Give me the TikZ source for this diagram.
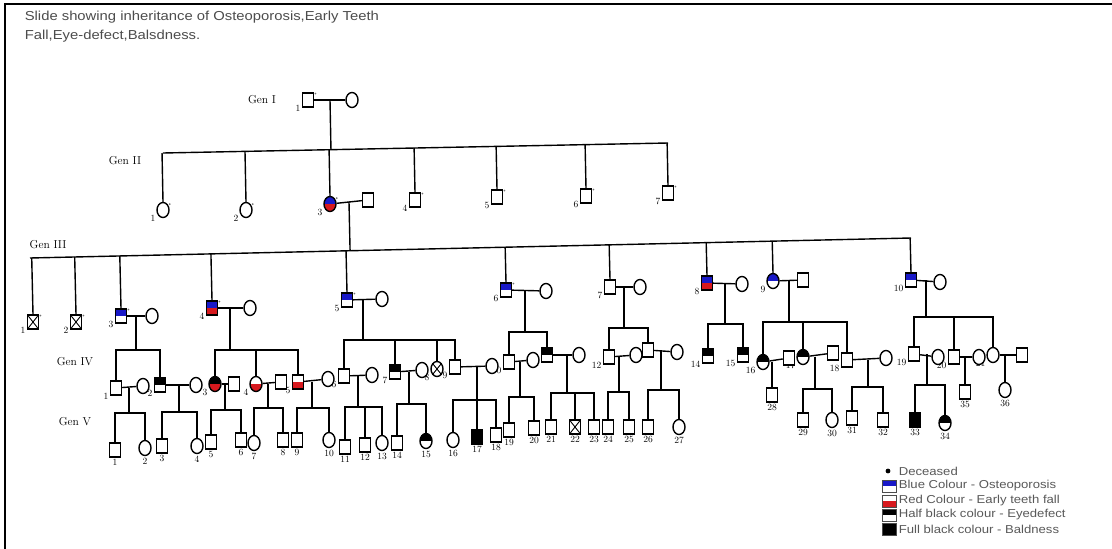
\documentclass[tikz,border=0pt]{standalone}
\usepackage{fontspec}
\newfontfamily\arial{Liberation Sans}
\usetikzlibrary{calc,shapes.geometric}
\definecolor{osteoblue}{RGB}{25,25,200}
\definecolor{teethred}{RGB}{215,25,30}

\begin{document}
\begin{tikzpicture}[x=1pt,y=-1pt,line width=1.4pt,
male/.style={draw,rectangle,minimum width=11pt,minimum height=14pt,inner sep=0pt,fill=white},
female/.style={draw,ellipse,minimum width=12pt,minimum height=15pt,inner sep=0pt,fill=white},
osteo/.style={path picture={\fill[osteoblue](path picture bounding box.north west)rectangle(path picture bounding box.east);}},
osteoteeth/.style={path picture={\fill[osteoblue](path picture bounding box.north west)rectangle(path picture bounding box.east);\fill[teethred](path picture bounding box.west)rectangle(path picture bounding box.south east);}},
teeth/.style={path picture={\fill[teethred](path picture bounding box.west)rectangle(path picture bounding box.south east);}},
eyeteeth/.style={path picture={\fill[black](path picture bounding box.north west)rectangle(path picture bounding box.east);\fill[teethred](path picture bounding box.west)rectangle(path picture bounding box.south east);}},
eye/.style={path picture={\fill[black](path picture bounding box.north west)rectangle(path picture bounding box.east);}},
bald/.style={fill=black},
crossed/.style={path picture={\draw[line width=0.9pt](path picture bounding box.north west)--(path picture bounding box.south east)(path picture bounding box.north east)--(path picture bounding box.south west);}},
dead/.style={label={[circle,fill=black!55,inner sep=0.7pt,label distance=0pt]40:{}}},
nlab/.style={font=\fontsize{9.5}{9.5}\selectfont,inner sep=0.8pt},
genlab/.style={font=\fontsize{11.5}{11.5}\selectfont,inner sep=0pt},
ttl/.style={font=\arial\fontsize{13}{13}\selectfont,text=black!70,xscale=1.14,inner sep=0pt,anchor=west},
legtxt/.style={font=\arial\fontsize{11.5}{12}\selectfont,text=black!65,xscale=1.14,inner sep=0pt,anchor=west},
legbox/.style={draw=black!70,rectangle,minimum width=14pt,minimum height=12pt,inner sep=0pt,fill=white,line width=0.6pt}]
\fill[white](0,0)rectangle(1112,549);
\useasboundingbox(0,0)rectangle(1112,549);
\draw[line width=2.5pt](5,549)--(5,4)--(1112,4); %枠

%題
\node[ttl](t1)at(24,17){Slide showing inheritance of Osteoporosis,Early Teeth};
\node[ttl](t2)at(24,36){Fall,Eye-defect,Balsdness.};

%第1世代
\node[genlab](gI)at(262,100){Gen I};
\node[male,dead,label={[nlab]-150:1}](I1)at(308,100){};
\node[female](I2)at(352,100){};
\draw(I1)--(I2);

%第2世代
\node[genlab](gII)at(125,161){Gen II};
\coordinate(g2a)at(163,153);
\coordinate(g2b)at(668,143);
\draw(g2a)--(g2b);
\coordinate(dI)at($(I1)!.5!(I2)$);
\draw(dI)--($(g2a)!(dI)!(g2b)$);
\node[female,dead,label={[nlab]-150:1}](II1)at(163,210){};
\node[female,dead,label={[nlab]-150:2}](II2)at(246,210){};
\node[female,osteoteeth,dead,label={[nlab]-150:3}](II3)at(330,204){};
\node[male,dead,label={[nlab]-150:4}](II4)at(415,200){};
\node[male,dead,label={[nlab]-150:5}](II5)at(497,197){};
\node[male,dead,label={[nlab]-150:6}](II6)at(586,196){};
\node[male,dead,label={[nlab]-150:7}](II7)at(668,193){};
\foreach \k in {1,...,7}{\draw(II\k.north)--($(g2a)!(II\k.north)!(g2b)$);}
\node[male](II3s)at(368,200){};
\draw(II3)--(II3s);

%第3世代
\node[genlab](gIII)at(48,245){Gen III};
\coordinate(g3a)at(30,258);
\coordinate(g3b)at(911,238);
\draw(g3a)--(g3b);
\coordinate(dII)at($(II3)!.5!(II3s)$);
\draw(dII)--($(g3a)!(dII)!(g3b)$);
\node[male,crossed,dead,label={[nlab]-150:1}](III1)at(33,322){};
\node[male,crossed,dead,label={[nlab]-150:2}](III2)at(76,322){};
\node[male,osteo,dead,label={[nlab]-150:3}](III3)at(121,316){};
\node[male,osteoteeth,dead,label={[nlab]-150:4}](III4)at(212,308){};
\node[male,osteo,dead,label={[nlab]-150:5}](III5)at(347,300){};
\node[male,osteo,dead,label={[nlab]-150:6}](III6)at(506,290){};
\node[male,label={[nlab]-150:7}](III7)at(610,287){};
\node[male,osteoteeth,label={[nlab]-150:8}](III8)at(707,283){};
\node[female,osteo,label={[nlab]-150:9}](III9)at(773,281){};
\node[male,osteo,label={[nlab]-150:10}](III10)at(911,280){};
\foreach \k in {1,...,10}{\draw(III\k.north)--($(g3a)!(III\k.north)!(g3b)$);}
\node[female](III3s)at(152,316){};
\node[female](III4s)at(250,308){};
\node[female](III5s)at(382,299){};
\node[female](III6s)at(546,291){};
\node[female](III7s)at(640,287){};
\node[female](III8s)at(742,284){};
\node[male](III9s)at(803,280){};
\node[female](III10s)at(940,282){};
\foreach \k in {3,...,10}{\draw(III\k)--(III\k s);}

%第4世代
\node[genlab](gIV)at(75,362){Gen IV};
\node[male,label={[nlab]-150:1}](IV1)at(116,388){};
\node[male,eye,label={[nlab]-150:2}](IV2)at(160,385){};
\node[female,eyeteeth,label={[nlab]-150:3}](IV3)at(215,384){};
\node[female,teeth,label={[nlab]-150:4}](IV4)at(256,384){};
\node[male,teeth,label={[nlab]-150:5}](IV5)at(298,382){};
\node[male,label={[nlab]-150:6}](IV6)at(344,376){};
\node[male,eye,label={[nlab]-150:7}](IV7)at(395,372){};
\node[female,crossed,label={[nlab]-150:8}](IV8)at(437,369){};
\node[male,label={[nlab]-150:9}](IV9)at(455,367){};
\node[male,label={[nlab]-150:10}](IV10)at(509,362){};
\node[male,eye,label={[nlab]-150:11}](IV11)at(547,355){};
\node[male,label={[nlab]-150:12}](IV12)at(609,357){};
\node[male,label={[nlab]-150:13}](IV13)at(648,350){};
\node[male,eye,label={[nlab]-150:14}](IV14)at(708,356){};
\node[male,eye,label={[nlab]-150:15}](IV15)at(743,355){};
\node[female,eye,label={[nlab]-150:16}](IV16)at(763,362){};
\node[female,eye,label={[nlab]-150:17}](IV17)at(803,357){};
\node[male,label={[nlab]-150:18}](IV18)at(847,360){};
\node[male,label={[nlab]-150:19}](IV19)at(914,354){};
\node[male,label={[nlab]-150:20}](IV20)at(954,357){};
\node[female,label={[nlab]-150:21}](IV21)at(993,355){};
%配偶者
\node[female](IV1s)at(143,386){};
\node[female](IV2s)at(196,385){};
\node[male](IV3s)at(234,384){};
\node[male](IV4s)at(281,382){};
\node[female](IV5s)at(328,379){};
\node[female](IV6s)at(372,375){};
\node[female](IV7s)at(422,370){};
\node[female](IV9s)at(492,366){};
\node[female](IV10s)at(533,360){};
\node[female](IV11s)at(579,355){};
\node[female](IV12s)at(636,355){};
\node[female](IV13s)at(677,352){};
\node[male](IV16s)at(789,358){};
\node[male](IV17s)at(833,353){};
\node[female](IV18s)at(886,358){};
\node[female](IV19s)at(938,357){};
\node[female](IV20s)at(979,357){};
\node[male](IV21s)at(1022,355){};
\foreach \k in {1,...,7,9,10,11,12,13,16,17,18,19,20,21}{\draw(IV\k)--(IV\k s);}
%兄弟線
\coordinate(sib3)at(136,350);
\coordinate(sib4)at(230,350);
\coordinate(sib5)at(363,340);
\coordinate(sib6)at(525,332);
\coordinate(sib7)at(624,328);
\coordinate(sib8)at(725,324);
\coordinate(sib9)at(789,322);
\coordinate(sib10)at(926,317);
\foreach \k in {3,...,10}{\draw(sib\k)--(sib\k|-III\k);}
\draw(IV1.north)|-(sib3)-|(IV2.north);
\draw(IV3.north)|-(sib4)-|(IV5.north);
\draw(IV4.north)--(IV4.north|-sib4);
\draw(IV6.north)|-(sib5)-|(IV9.north);
\draw(IV7.north)--(IV7.north|-sib5);
\draw(IV8.north)--(IV8.north|-sib5);
\draw(IV10.north)|-(sib6)-|(IV11.north);
\draw(IV12.north)|-(sib7)-|(IV13.north);
\draw(IV14.north)|-(sib8)-|(IV15.north);
\draw(IV16.north)|-(sib9)-|(IV18.north);
\draw(IV17.north)--(IV17.north|-sib9);
\draw(IV19.north)|-(sib10)-|(IV21.north);
\draw(IV20.north)--(IV20.north|-sib10);

%第5世代
\node[genlab](gV)at(75,422){Gen V};
\node[male,label={[nlab]below:1}](V1)at(115,450){};
\node[female,label={[nlab]below:2}](V2)at(145,448){};
\node[male,label={[nlab]below:3}](V3)at(162,446){};
\node[female,label={[nlab]below:4}](V4)at(197,446){};
\node[male,label={[nlab]below:5}](V5)at(211,442){};
\node[male,label={[nlab]below:6}](V6)at(241,440){};
\node[female,label={[nlab]below:7}](V7)at(254,443){};
\node[male,label={[nlab]below:8}](V8)at(283,440){};
\node[male,label={[nlab]below:9}](V9)at(297,440){};
\node[female,label={[nlab]below:10}](V10)at(329,440){};
\node[male,label={[nlab]below:11}](V11)at(345,447){};
\node[male,label={[nlab]below:12}](V12)at(365,445){};
\node[female,label={[nlab]below:13}](V13)at(382,443){};
\node[male,label={[nlab]below:14}](V14)at(397,443){};
\node[female,eye,label={[nlab]below:15}](V15)at(426,441){};
\node[female,label={[nlab]below:16}](V16)at(453,440){};
\node[male,bald,label={[nlab]below:17}](V17)at(477,437){};
\node[male,label={[nlab]below:18}](V18)at(496,435){};
\node[male,label={[nlab]below:19}](V19)at(509,430){};
\node[male,label={[nlab]below:20}](V20)at(534,428){};
\node[male,label={[nlab]below:21}](V21)at(551,427){};
\node[male,crossed,label={[nlab]below:22}](V22)at(575,427){};
\node[male,label={[nlab]below:23}](V23)at(594,427){};
\node[male,label={[nlab]below:24}](V24)at(608,427){};
\node[male,label={[nlab]below:25}](V25)at(629,427){};
\node[male,label={[nlab]below:26}](V26)at(648,427){};
\node[female,label={[nlab]below:27}](V27)at(679,427){};
\node[male,label={[nlab]below:28}](V28)at(772,395){};
\node[male,label={[nlab]below:29}](V29)at(803,420){};
\node[female,label={[nlab]below:30}](V30)at(832,420){};
\node[male,label={[nlab]below:31}](V31)at(852,418){};
\node[male,label={[nlab]below:32}](V32)at(883,420){};
\node[male,bald,label={[nlab]below:33}](V33)at(915,420){};
\node[female,eye,label={[nlab]below:34}](V34)at(945,423){};
\node[male,label={[nlab]below:35}](V35)at(965,392){};
\node[female,label={[nlab]below:36}](V36)at(1005,390){};
%兄弟線
\coordinate(v1)at(129,413);
\coordinate(v2)at(179,412);
\coordinate(v3)at(225,410);
\coordinate(v4)at(268,408);
\coordinate(v5)at(312,408);
\coordinate(v6)at(358,407);
\coordinate(v7)at(409,404);
\coordinate(v9)at(477,400);
\coordinate(v10)at(520,397);
\coordinate(v11)at(567,393);
\coordinate(v12)at(619,392);
\coordinate(v13)at(661,390);
\coordinate(v17)at(815,389);
\coordinate(v18)at(868,387);
\coordinate(v19)at(927,385);
\foreach \k in {1,...,7,9,10,11,12,13,17,18,19}{\draw(v\k)--(v\k|-IV\k);}
\draw(V1.north)|-(v1)-|(V2.north);
\draw(V3.north)|-(v2)-|(V4.north);
\draw(V5.north)|-(v3)-|(V6.north);
\draw(V7.north)|-(v4)-|(V8.north);
\draw(V9.north)|-(v5)-|(V10.north);
\draw(V11.north)|-(v6)-|(V13.north);
\draw(V12.north)--(V12.north|-v6);
\draw(V14.north)|-(v7)-|(V15.north);
\draw(V16.north)|-(v9)-|(V18.north);
\draw(V17.north)--(V17.north|-v9);
\draw(V19.north)|-(v10)-|(V20.north);
\draw(V21.north)|-(v11)-|(V23.north);
\draw(V22.north)--(V22.north|-v11);
\draw(V24.north)|-(v12)-|(V25.north);
\draw(V26.north)|-(v13)-|(V27.north);
\draw(V29.north)|-(v17)-|(V30.north);
\draw(V31.north)|-(v18)-|(V32.north);
\draw(V33.north)|-(v19)-|(V34.north);
\draw(V28.north)--(V28.north|-IV16); %一人っ子
\draw(V35.north)--(V35.north|-IV20);
\draw(V36.north)--(V36.north|-IV21);

%凡例
\node[circle,fill=black,inner sep=1.7pt](lg0)at(888,471){};
\node[legtxt](lt0)at(898,471){Deceased};
\node[legbox,osteo](lg1)at(889,486){};
\node[legtxt](lt1)at(898,486){Blue Colour - Osteoporosis};
\node[legbox,teeth](lg2)at(889,501){};
\node[legtxt](lt2)at(898,501){Red Colour - Early teeth fall};
\node[legbox,eye](lg3)at(889,515){};
\node[legtxt](lt3)at(898,515){Half black colour - Eyedefect};
\node[legbox,bald](lg4)at(889,529){};
\node[legtxt](lt4)at(898,529){Full black colour - Baldness};
\end{tikzpicture}
\end{document}
